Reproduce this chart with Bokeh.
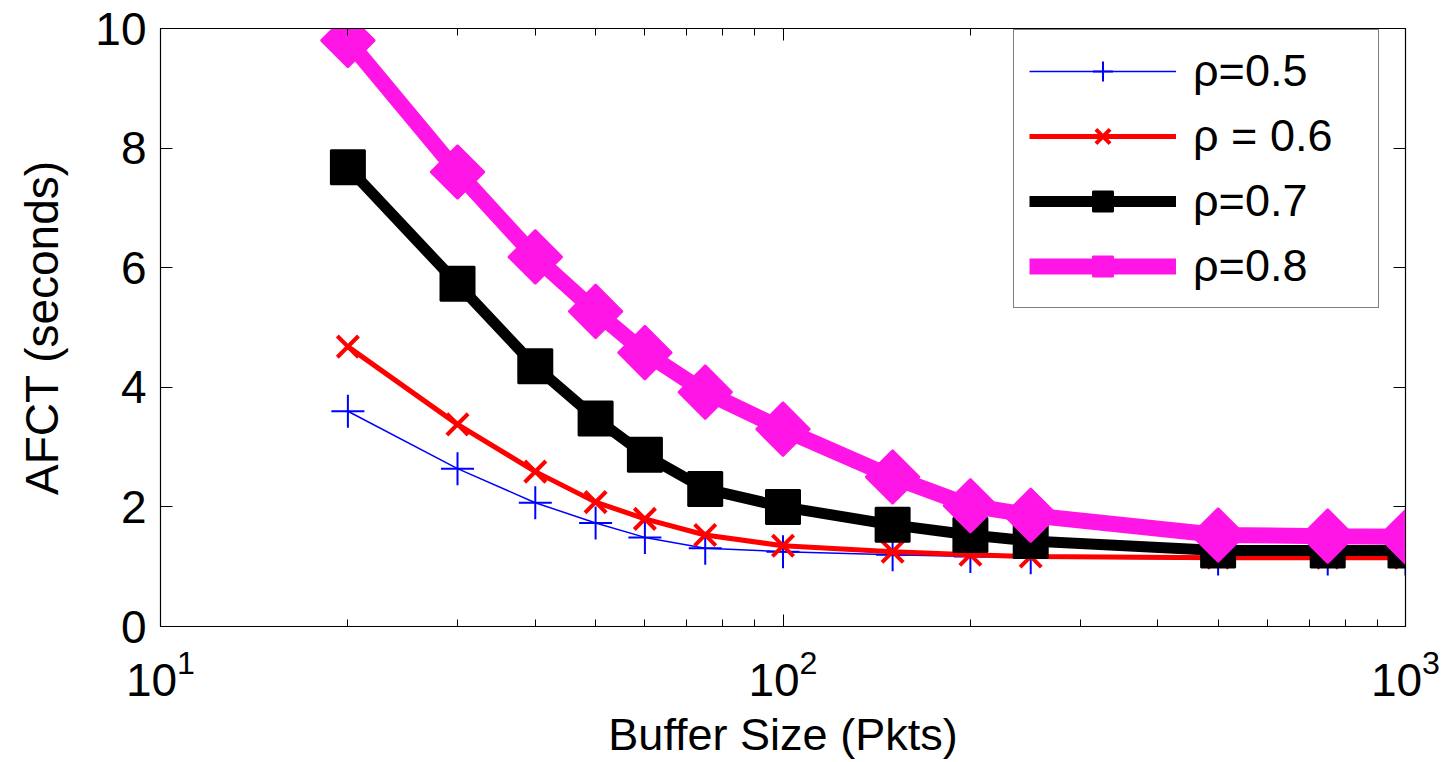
from bokeh.plotting import figure
from bokeh.models import (FixedTicker, LogTickFormatter, LogAxis, LinearAxis,
                          Legend, LegendItem, Range1d)
from bokeh.embed import file_html
from bokeh.resources import INLINE

# ---- data ----
buffer_size = [20, 30, 40, 50, 60, 75, 100, 150, 200, 250, 500, 750, 1000]
rho05 = [3.60, 2.64, 2.07, 1.73, 1.49, 1.31, 1.25, 1.20, 1.17, 1.15, 1.13, 1.13, 1.13]
rho06 = [4.68, 3.38, 2.59, 2.08, 1.80, 1.53, 1.35, 1.25, 1.20, 1.17, 1.15, 1.15, 1.15]
rho07 = [7.68, 5.73, 4.35, 3.48, 2.87, 2.30, 2.00, 1.70, 1.53, 1.43, 1.27, 1.27, 1.27]
rho08 = [9.80, 7.60, 6.18, 5.27, 4.58, 3.92, 3.30, 2.50, 2.02, 1.86, 1.53, 1.51, 1.50]
labels = ["\u03c1=0.5", "\u03c1 = 0.6", "\u03c1=0.7", "\u03c1=0.8"]
x_major = [10, 100, 1000]
x_minor = [20, 30, 40, 50, 60, 70, 80, 90, 200, 300, 400, 500, 600, 700, 800, 900]
y_ticks = [0, 2, 4, 6, 8, 10]
x_title = "Buffer Size (Pkts)"
y_title = "AFCT (seconds)"

FONT = "Liberation Sans"

p = figure(width=1448, height=762, x_axis_type="log",
           x_range=Range1d(10, 1000), y_range=Range1d(0, 10),
           output_backend="svg", toolbar_location=None,
           min_border_left=160, min_border_right=43,
           min_border_top=28, min_border_bottom=134)
p.grid.visible = False
p.outline_line_color = "black"
p.outline_line_width = 1.2
p.background_fill_color = "white"
p.border_fill_color = "white"

xt = FixedTicker(ticks=x_major, minor_ticks=x_minor)
yt = FixedTicker(ticks=y_ticks)

xa = p.xaxis[0]
xa.ticker = xt
xa.formatter = LogTickFormatter()
ya = p.yaxis[0]
ya.ticker = yt

for ax in (xa, ya):
    ax.major_tick_in = 12
    ax.major_tick_out = 0
    ax.minor_tick_in = 7
    ax.minor_tick_out = 0
    ax.axis_line_color = "black"
    ax.major_tick_line_color = "black"
    ax.minor_tick_line_color = "black"
    ax.major_label_text_font = FONT
    ax.major_label_text_font_size = "46px"
    ax.major_label_text_color = "black"
    ax.axis_label_text_font = FONT
    ax.axis_label_text_font_style = "normal"
    ax.axis_label_text_color = "black"

xa.major_label_standoff = 22
xa.axis_label = x_title
xa.axis_label_text_font_size = "45px"
xa.axis_label_standoff = 10
ya.major_label_standoff = 14
ya.axis_label = y_title
ya.axis_label_text_font_size = "46px"
ya.axis_label_standoff = 24
ya.minor_tick_line_color = None

# mirrored axes (ticks only, labels hidden)
top = LogAxis(ticker=xt, major_tick_in=12, major_tick_out=0, minor_tick_in=7,
              minor_tick_out=0, major_label_text_font_size="8px",
              major_label_text_color=None,
              major_label_standoff=0, axis_line_color="black")
right = LinearAxis(ticker=yt, major_tick_in=12, major_tick_out=0,
                   minor_tick_line_color=None, major_label_text_font_size="8px",
                   major_label_text_color=None,
                   major_label_standoff=0, axis_line_color="black")
p.add_layout(top, "above")
p.add_layout(right, "right")

# ---- series ----
l1 = p.line(buffer_size, rho05, line_color="#0000ff", line_width=1.5)
m1 = p.scatter(buffer_size, rho05, marker="cross", size=33, line_color="#0000ff",
               line_width=2)
l2 = p.line(buffer_size, rho06, line_color="#ff0000", line_width=5)
m2 = p.scatter(buffer_size, rho06, marker="x", size=30, line_color="#ff0000",
               line_width=4)
l3 = p.line(buffer_size, rho07, line_color="black", line_width=11)
m3 = p.scatter(buffer_size, rho07, marker="square", size=34, line_color="black",
               fill_color="black", line_width=2)
l4 = p.line(buffer_size, rho08, line_color="#ff16e6", line_width=16)
m4 = p.scatter(buffer_size, rho08, marker="square", angle=45, angle_units="deg",
               size=38, line_color="#ff16e6", fill_color="#ff16e6", line_width=2)

legend = Legend(items=[LegendItem(label=labels[0], renderers=[l1, m1]),
                       LegendItem(label=labels[1], renderers=[l2, m2]),
                       LegendItem(label=labels[2], renderers=[l3, m3]),
                       LegendItem(label=labels[3], renderers=[l4, m4])],
                location=(853, 318))
legend.label_text_font = FONT
legend.label_text_font_size = "45px"
legend.label_text_color = "black"
legend.glyph_width = 147
legend.glyph_height = 50
legend.label_height = 50
legend.label_width = 170
legend.label_standoff = 17
legend.spacing = 13
legend.padding = 15
legend.margin = 0
legend.border_line_color = "black"
legend.border_line_width = 1.5
legend.background_fill_color = "white"
legend.background_fill_alpha = 1
p.add_layout(legend, "center")

open("out.html", "w").write(file_html(p, INLINE))
